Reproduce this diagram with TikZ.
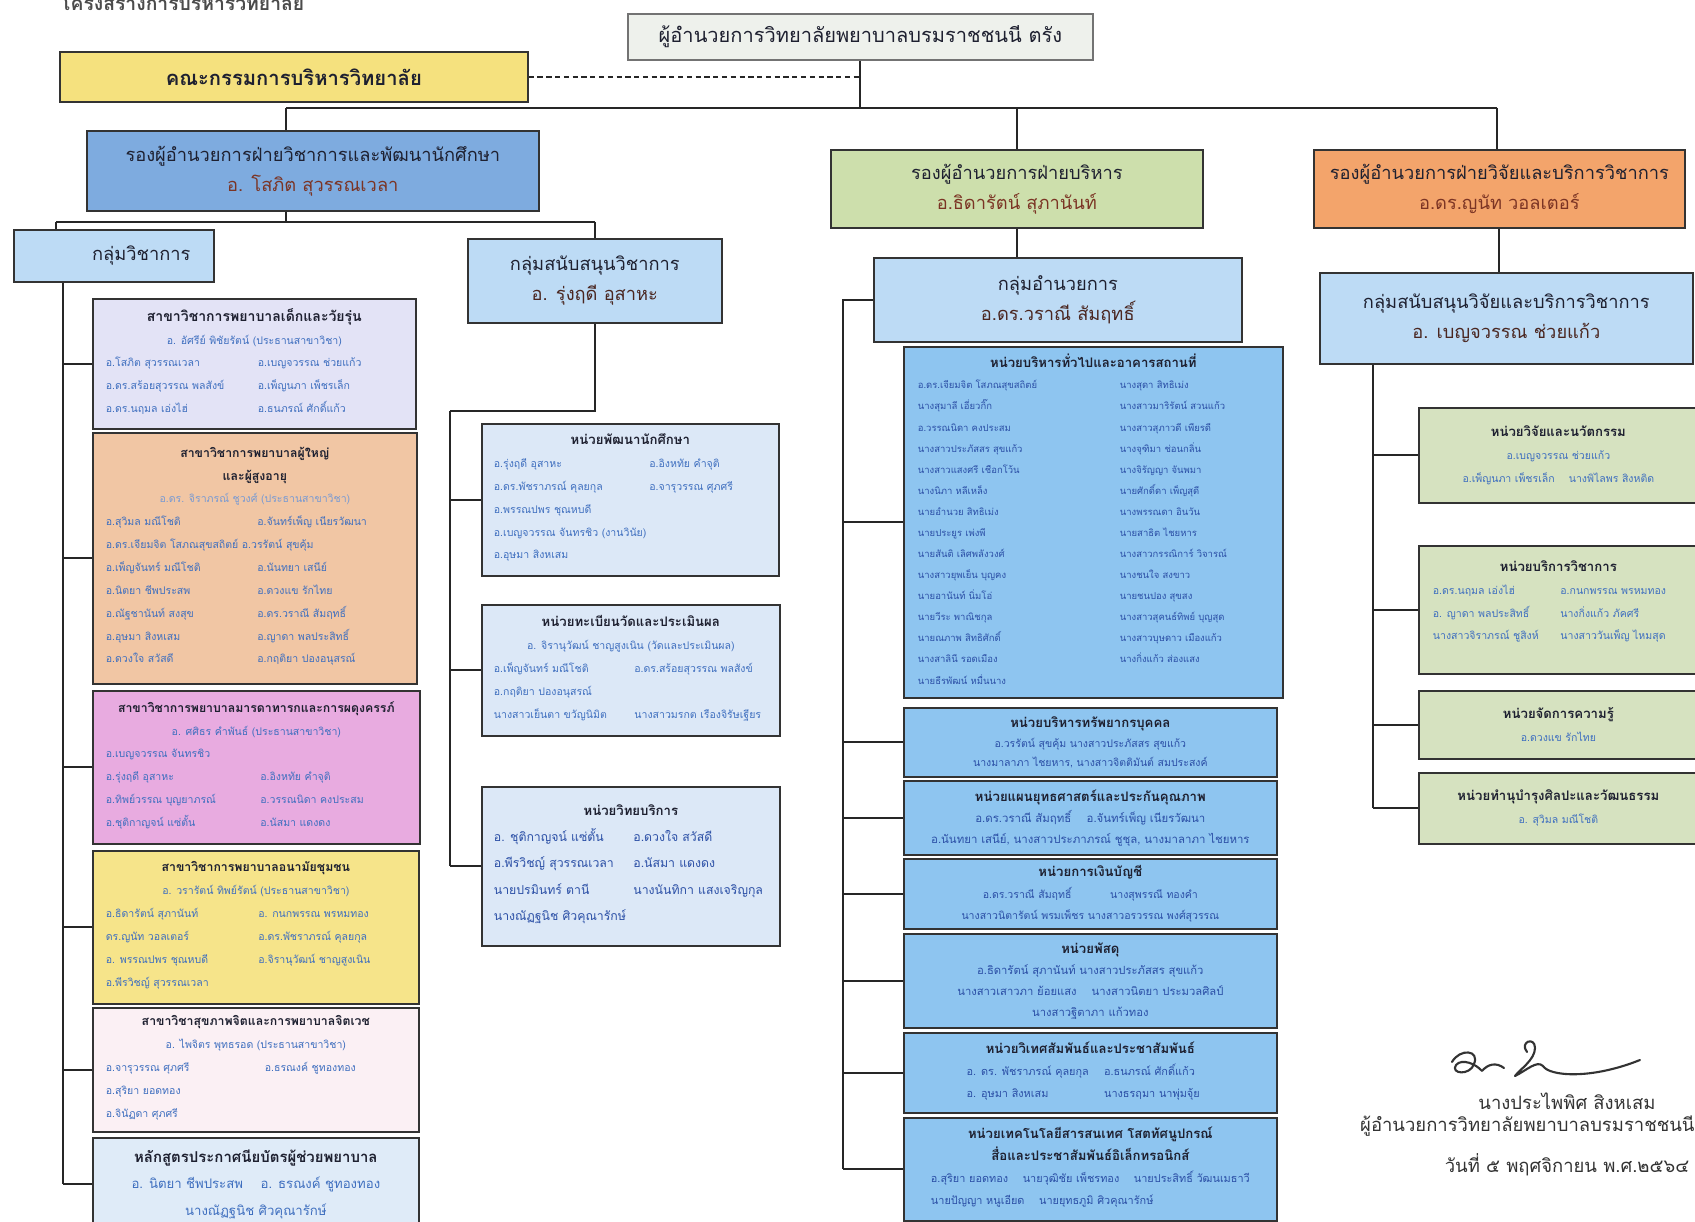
\documentclass[tikz,border=0pt]{standalone}
\usepackage{fontspec}
\usepackage{array}
\newfontfamily\thaifont[Script=Thai]{Loma}
\usetikzlibrary{positioning,calc}

\definecolor{namec}{HTML}{3F6FBF}
\definecolor{bluename}{HTML}{2B4FA6}
\definecolor{headc}{HTML}{1E2030}
\definecolor{vpname}{HTML}{7B3424}
\definecolor{grpname}{HTML}{4A2620}
\definecolor{linec}{HTML}{262626}
\definecolor{dirfill}{HTML}{EEF1EC}
\definecolor{boardfill}{HTML}{F5E17E}
\definecolor{vpblue}{HTML}{7EABDF}
\definecolor{vpgreen}{HTML}{CDDFAC}
\definecolor{vporange}{HTML}{F3A46B}
\definecolor{grpfill}{HTML}{BDDBF5}
\definecolor{kidfill}{HTML}{E3E3F6}
\definecolor{adultfill}{HTML}{F1C6A4}
\definecolor{matfill}{HTML}{E8ABE0}
\definecolor{comfill}{HTML}{F6E48A}
\definecolor{psyfill}{HTML}{FBF0F4}
\definecolor{certfill}{HTML}{DFEBF8}
\definecolor{midfill}{HTML}{DCE8F7}
\definecolor{unitblue}{HTML}{8EC5F0}
\definecolor{unitgreen}{HTML}{D6E2C0}

\newcommand{\twocol}[3]{\begin{tabular}[t]{@{}>{\raggedright\arraybackslash}p{#1}@{}>{\raggedright\arraybackslash}p{#2}@{}}#3\end{tabular}}
\newcommand{\head}[1]{{\fontsize{7}{\the\baselineskip}\selectfont\bfseries #1}}
\newcommand{\uhead}[1]{{\fontsize{7.5}{\the\baselineskip}\selectfont\bfseries #1}}
\newcommand{\nm}[1]{{\color{namec}#1}}
\newcommand{\bn}[1]{{\color{bluename}#1}}

\tikzset{
  box/.style={draw=black!80, line width=1pt, anchor=north west, inner sep=1pt, align=center, text=headc, font=\thaifont\fontsize{6}{13}\selectfont},
  bigbox/.style={box, font=\thaifont\fontsize{10.4}{17}\selectfont},
  link/.style={draw=linec, line width=1.1pt},
  sigtext/.style={font=\thaifont\fontsize{10.5}{12}\selectfont, text=black!80},
}

\begin{document}
\begin{tikzpicture}[x=0.02cm,y=-0.02cm]
\useasboundingbox (0,0) rectangle (1695,1222);
\clip (0,0) rectangle (1695,1222);
\fill[white] (0,0) rectangle (1695,1222);

% title and top level
\node[anchor=north west, font=\thaifont\bfseries\fontsize{11}{13}\selectfont, text=black!70] (title) at (54,-12) {โครงสร้างการบริหารวิทยาลัย};
\node[bigbox, fill=dirfill, draw=black!55, minimum width=9.3cm, minimum height=0.92cm, font=\thaifont\fontsize{11.4}{14}\selectfont] (dir) at (627,13) {ผู้อำนวยการวิทยาลัยพยาบาลบรมราชชนนี ตรัง};
\node[bigbox, fill=boardfill, minimum width=9.36cm, minimum height=1.0cm, font=\thaifont\bfseries\fontsize{11.5}{14}\selectfont] (board) at (59,51) {คณะกรรมการบริหารวิทยาลัย};

% deputies
\node[bigbox, fill=vpblue, minimum width=9.04cm, minimum height=1.6cm] (vp1) at (86,130) {รองผู้อำนวยการฝ่ายวิชาการและพัฒนานักศึกษา\\ \textcolor{vpname}{อ. โสภิต สุวรรณเวลา}};
\node[bigbox, fill=vpgreen, minimum width=7.44cm, minimum height=1.56cm] (vp2) at (830,149) {รองผู้อำนวยการฝ่ายบริหาร\\ \textcolor{vpname}{อ.ธิดารัตน์ สุภานันท์}};
\node[bigbox, fill=vporange, minimum width=7.42cm, minimum height=1.56cm] (vp3) at (1313,149) {รองผู้อำนวยการฝ่ายวิจัยและบริการวิชาการ\\ \textcolor{vpname}{อ.ดร.ญนัท วอลเตอร์}};

% groups
\node[bigbox, fill=grpfill, minimum width=4.0cm, minimum height=1.04cm] (grpA) at (13,229) {\hspace*{1.1cm}กลุ่มวิชาการ};
\node[bigbox, fill=grpfill, minimum width=5.08cm, minimum height=1.68cm] (grpB) at (467,238) {กลุ่มสนับสนุนวิชาการ\\ \textcolor{grpname}{อ. รุ่งฤดี อุสาหะ}};
\node[bigbox, fill=grpfill, minimum width=7.36cm, minimum height=1.68cm] (grpC) at (873,257) {กลุ่มอำนวยการ\\ \textcolor{grpname}{อ.ดร.วราณี สัมฤทธิ์}};
\node[bigbox, fill=grpfill, minimum width=7.46cm, minimum height=1.82cm] (grpD) at (1319,272) {กลุ่มสนับสนุนวิจัยและบริการวิชาการ\\ \textcolor{grpname}{อ. เบญจวรรณ ช่วยแก้ว}};

% branches of academic group
\node[box, fill=kidfill, minimum width=6.46cm, minimum height=2.6cm] (sdek) at (92,298) {{\fontsize{8}{13}\selectfont\bfseries สาขาวิชาการพยาบาลเด็กและวัยรุ่น}\\ \nm{อ. อัศรีย์ พิชัยรัตน์ (ประธานสาขาวิชา)}\\ \nm{\twocol{3.04cm}{2.9cm}{อ.โสภิต สุวรรณเวลา & อ.เบญจวรรณ ช่วยแก้ว\\ อ.ดร.สร้อยสุวรรณ พลสังข์ & อ.เพ็ญนภา เพ็ชรเล็ก\\ อ.ดร.นฤมล เอ่งไฮ่ & อ.ธนภรณ์ ศักดิ์แก้ว}}};
\node[box, fill=adultfill, minimum width=6.48cm, minimum height=5.02cm] (sadult) at (92,432) {\head{สาขาวิชาการพยาบาลผู้ใหญ่}\\ \head{และผู้สูงอายุ}\\ \textcolor{namec!70}{อ.ดร. จิราภรณ์ ชูวงศ์ (ประธานสาขาวิชา)}\\ \nm{\twocol{3.03cm}{2.93cm}{อ.สุวิมล มณีโชติ & อ.จันทร์เพ็ญ เนียรวัฒนา\\ \multicolumn{2}{@{}l@{}}{อ.ดร.เจียมจิต โสภณสุขสถิตย์ อ.วรรัตน์ สุขคุ้ม}\\ อ.เพ็ญจันทร์ มณีโชติ & อ.นันทยา เสนีย์\\ อ.นิตยา ชีพประสพ & อ.ดวงแข รักไทย\\ อ.ณัฐชานันท์ สงสุข & อ.ดร.วราณี สัมฤทธิ์\\ อ.อุษมา สิงหเสม & อ.ญาดา พลประสิทธิ์\\ อ.ดวงใจ สวัสดี & อ.กฤติยา ปองอนุสรณ์}}};
\node[box, fill=matfill, minimum width=6.54cm, minimum height=3.06cm] (smat) at (92,690) {\head{สาขาวิชาการพยาบาลมารดาทารกและการผดุงครรภ์}\\ \nm{อ. ศศิธร คำพันธ์ (ประธานสาขาวิชา)}\\ \nm{\twocol{3.09cm}{2.93cm}{อ.เบญจวรรณ จันทรชิว & \\ อ.รุ่งฤดี อุสาหะ & อ.อิงหทัย คำจุติ\\ อ.ทิพย์วรรณ บุญยาภรณ์ & อ.วรรณนิดา คงประสม\\ อ.ชุติกาญจน์ แซ่ตั้น & อ.นัสมา แดงดง}}};
\node[box, fill=comfill, minimum width=6.52cm, minimum height=3.06cm] (scom) at (92,850) {\head{สาขาวิชาการพยาบาลอนามัยชุมชน}\\ \nm{อ. วรารัตน์ ทิพย์รัตน์ (ประธานสาขาวิชา)}\\ \nm{\twocol{3.05cm}{2.95cm}{อ.ธิดารัตน์ สุภานันท์ & อ. กนกพรรณ พรหมทอง\\ ดร.ญนัท วอลเตอร์ & อ.ดร.พัชราภรณ์ คุลยกุล\\ อ. พรรณปพร ชุณหบดี & อ.จิรานุวัฒน์ ชาญสูงเนิน\\ อ.พีรวิชญ์ สุวรรณเวลา & }}};
\node[box, fill=psyfill, minimum width=6.52cm, minimum height=2.48cm] (spsy) at (92,1007) {\head{สาขาวิชาสุขภาพจิตและการพยาบาลจิตเวช}\\ \nm{อ. ไพจิตร พุทธรอด (ประธานสาขาวิชา)}\\ \nm{\twocol{3.18cm}{2.82cm}{อ.จารุวรรณ ศุภศรี & อ.ธรณงค์ ชูทองทอง\\ อ.สุริยา ยอดทอง & \\ อ.จินัฏดา ศุภศรี & }}};
\node[box, fill=certfill, minimum width=6.52cm, minimum height=1.86cm, font=\thaifont\fontsize{7.5}{15}\selectfont] (scert) at (92,1137) {{\bfseries\fontsize{8.5}{15}\selectfont หลักสูตรประกาศนียบัตรผู้ช่วยพยาบาล}\\ \nm{อ. นิตยา ชีพประสพ \quad อ. ธรณงค์ ชูทองทอง}\\ \nm{นางณัฏฐนิช ศิวคุณารักษ์}};

% academic support units
\node[box, fill=midfill, minimum width=5.94cm, minimum height=3.04cm] (mdev) at (481,423) {\uhead{หน่วยพัฒนานักศึกษา}\\ \nm{\twocol{3.11cm}{2.35cm}{อ.รุ่งฤดี อุสาหะ & อ.อิงหทัย คำจุติ\\ อ.ดร.พัชราภรณ์ คุลยกุล & อ.จารุวรรณ ศุภศรี\\ อ.พรรณปพร ชุณหบดี & \\ \multicolumn{2}{@{}l@{}}{อ.เบญจวรรณ จันทรชิว (งานวินัย)}\\ อ.อุษมา สิงหเสม & }}};
\node[box, fill=midfill, minimum width=5.96cm, minimum height=2.62cm] (mreg) at (481,604) {\uhead{หน่วยทะเบียนวัดและประเมินผล}\\ \nm{อ. จิรานุวัฒน์ ชาญสูงเนิน (วัดและประเมินผล)}\\ \nm{\twocol{2.81cm}{2.67cm}{อ.เพ็ญจันทร์ มณีโชติ & อ.ดร.สร้อยสุวรรณ พลสังข์\\ อ.กฤติยา ปองอนุสรณ์ & \\ นางสาวเย็นตา ขวัญนิมิต & นางสาวมรกต เรืองจิรัษเฐียร}}};
\node[box, fill=midfill, minimum width=5.96cm, minimum height=3.18cm, font=\thaifont\fontsize{7}{15}\selectfont] (mlib) at (481,786) {\uhead{หน่วยวิทยบริการ}\\ \bn{\twocol{2.79cm}{2.69cm}{อ. ชุติกาญจน์ แซ่ตั้น & อ.ดวงใจ สวัสดี\\ อ.พีรวิชญ์ สุวรรณเวลา & อ.นัสมา แดงดง\\ นายปรมินทร์ ตานี & นางนันทิกา แสงเจริญกุล\\ นางณัฏฐนิช ศิวคุณารักษ์ & }}};

% administration units
\node[box, fill=unitblue, minimum width=7.58cm, minimum height=7.02cm, font=\thaifont\fontsize{5.4}{12}\selectfont] (ugen) at (903,346) {\uhead{หน่วยบริหารทั่วไปและอาคารสถานที่}\\ \bn{\twocol{4.04cm}{2.98cm}{อ.ดร.เจียมจิต โสภณสุขสถิตย์ & นางสุดา สิทธิเม่ง\\ นางสุมาลี เอี่ยวกิ๊ก & นางสาวมาริรัตน์ สวนแก้ว\\ อ.วรรณนิดา คงประสม & นางสาวสุภาวดี เพียรดี\\ นางสาวประภัสสร สุขแก้ว & นางจุฑิมา ช่อนกลิ่น\\ นางสาวแสงศรี เชือกโว้น & นางจิรัญญา จันพมา\\ นางนิภา หลีเหล็ง & นายศักดิ์ดา เพ็ญสุดี\\ นายอำนวย สิทธิเม่ง & นางพรรณดา อินวัน\\ นายประยูร เพ่งพี & นายสาธิต ไชยหาร\\ นายสันติ เลิศพลังวงศ์ & นางสาวกรรณิการ์ วิจารณ์\\ นางสาวยุพเย็น บุญคง & นางชนใจ สงขาว\\ นายอานันท์ นิ่มโอ่ & นายชนปอง สุขสง\\ นายวีระ พาณิชกุล & นางสาวสุคนธ์ทิพย์ บุญสุด\\ นายณภาพ สิทธิศักดิ์ & นางสาวบุษดาว เมืองแก้ว\\ นางสาลินี รอดเมือง & นางกิ่งแก้ว ส่องแสง\\ นายธีรพัฒน์ หมื่นนาง & }}};
\node[box, fill=unitblue, minimum width=7.46cm, minimum height=1.38cm, font=\thaifont\fontsize{6}{11}\selectfont] (uhr) at (903,707) {\uhead{หน่วยบริหารทรัพยากรบุคคล}\\ \bn{อ.วรรัตน์ สุขคุ้ม นางสาวประภัสสร สุขแก้ว}\\ \bn{นางมาลาภา ไชยหาร, นางสาวจิตติมันต์ สมประสงค์}};
\node[box, fill=unitblue, minimum width=7.46cm, minimum height=1.48cm, font=\thaifont\fontsize{6.5}{12}\selectfont] (uplan) at (903,780) {\uhead{หน่วยแผนยุทธศาสตร์และประกันคุณภาพ}\\ \bn{อ.ดร.วราณี สัมฤทธิ์ \quad อ.จันทร์เพ็ญ เนียรวัฒนา}\\ \bn{อ.นันทยา เสนีย์, นางสาวประภาภรณ์ ชูชุล, นางมาลาภา ไชยหาร}};
\node[box, fill=unitblue, minimum width=7.46cm, minimum height=1.40cm, font=\thaifont\fontsize{6}{12}\selectfont] (ufin) at (903,858) {\uhead{หน่วยการเงินบัญชี}\\ \bn{อ.ดร.วราณี สัมฤทธิ์ \hspace{3em} นางสุพรรณี ทองคำ}\\ \bn{นางสาวนิตารัตน์ พรมเพ็ชร นางสาวอรวรรณ พงศ์สุวรรณ}};
\node[box, fill=unitblue, minimum width=7.46cm, minimum height=1.88cm, font=\thaifont\fontsize{6.4}{12}\selectfont] (usup) at (903,933) {\uhead{หน่วยพัสดุ}\\ \bn{อ.ธิดารัตน์ สุภานันท์ นางสาวประภัสสร สุขแก้ว}\\ \bn{นางสาวเสาวภา ย้อยแสง \quad นางสาวนิตยา ประมวลศิลป์}\\ \bn{นางสาวฐิตาภา แก้วทอง}};
\node[box, fill=unitblue, minimum width=7.46cm, minimum height=1.60cm, font=\thaifont\fontsize{6.2}{12.5}\selectfont] (uint) at (903,1032) {\uhead{หน่วยวิเทศสัมพันธ์และประชาสัมพันธ์}\\ \bn{\twocol{2.75cm}{2.2cm}{อ. ดร. พัชราภรณ์ คุลยกุล & อ.ธนภรณ์ ศักดิ์แก้ว\\ อ. อุษมา สิงหเสม & นางธรฤมา นาพุ่มจุ้ย}}};
\node[box, fill=unitblue, minimum width=7.46cm, minimum height=2.06cm, font=\thaifont\fontsize{6.2}{12.5}\selectfont] (uit) at (903,1117) {\uhead{หน่วยเทคโนโลยีสารสนเทศ โสตทัศนูปกรณ์}\\ \uhead{สื่อและประชาสัมพันธ์อิเล็กทรอนิกส์}\\ \bn{\begin{tabular}[t]{@{}l@{}}อ.สุริยา ยอดทอง \quad นายวุฒิชัย เพ็ชรทอง \quad นายประสิทธิ์ วัฒนเมธาวี\\ นายปัญญา หนูเอียด \quad นายยุทธภูมิ ศิวคุณารักษ์\end{tabular}}};

% research and service units
\node[box, fill=unitgreen, minimum width=5.58cm, minimum height=1.90cm] (rres) at (1418,407) {\uhead{หน่วยวิจัยและนวัตกรรม}\\ \nm{อ.เบญจวรรณ ช่วยแก้ว}\\ \nm{อ.เพ็ญนภา เพ็ชรเล็ก \quad นางพิไลพร สิงหติด}};
\node[box, fill=unitgreen, minimum width=5.58cm, minimum height=2.56cm] (rsvc) at (1418,545) {\uhead{หน่วยบริการวิชาการ}\\ \nm{\twocol{2.55cm}{2.47cm}{อ.ดร.นฤมล เอ่งไฮ่ & อ.กนกพรรณ พรหมทอง\\ อ. ญาดา พลประสิทธิ์ & นางกิ่งแก้ว ภัคศรี\\ นางสาวจิราภรณ์ ชูสิงห์ & นางสาววันเพ็ญ ไหมสุด}}\\[6pt]};
\node[box, fill=unitgreen, minimum width=5.58cm, minimum height=1.36cm] (rkm) at (1418,690) {\uhead{หน่วยจัดการความรู้}\\ \nm{อ.ดวงแข รักไทย}};
\node[box, fill=unitgreen, minimum width=5.58cm, minimum height=1.42cm] (rart) at (1418,772) {\uhead{หน่วยทำนุบำรุงศิลปะและวัฒนธรรม}\\ \nm{อ. สุวิมล มณีโชติ}};

% top connectors
\coordinate (busL) at (286,108);
\coordinate (busR) at (1497,108);
\draw[link] (dir.south) -- (dir.south |- busL);
\draw[link] (busL) -- (busR);
\draw[link] (busL) -- (busL |- vp1.north);
\draw[link] (vp2.north |- busL) -- (vp2.north);
\draw[link] (busR) -- (busR |- vp3.north);
\draw[link, dash pattern=on 3pt off 2pt] (board.east) -- (board.east -| dir.south);

% academic side
\coordinate (busA) at (56,222);
\coordinate (busB) at (595,222);
\draw[link] (vp1.south -| busL) -- (busL |- busA);
\draw[link] (busA) -- (busB);
\draw[link] (busA) -- (busA |- grpA.north);
\draw[link] (busB) -- (busB |- grpB.north);

\coordinate (spA) at (63,0);
\draw[link] (grpA.south -| spA) -- (spA |- scert.west);
\foreach \n in {sdek,sadult,smat,scom,spsy,scert}
	\draw[link] (spA |- \n.west) -- (\n.west);

\coordinate (spB) at (450,411);
\draw[link] (grpB.south) |- (spB);
\draw[link] (spB) -- (spB |- mlib.west);
\foreach \n in {mdev,mreg,mlib}
	\draw[link] (spB |- \n.west) -- (\n.west);

% administration side
\draw[link] (vp2.south) -- (vp2.south |- grpC.north);
\coordinate (spC) at (843,0);
\draw[link] (grpC.west) -- (grpC.west -| spC) -- (spC |- uit.west);
\foreach \n in {ugen,uhr,uplan,ufin,usup,uint,uit}
	\draw[link] (spC |- \n.west) -- (\n.west);

% research side
\draw[link] (vp3.south) -- (vp3.south |- grpD.north);
\coordinate (spD) at (1373,0);
\draw[link] (grpD.south -| spD) -- (spD |- rart.west);
\foreach \n in {rres,rsvc,rkm,rart}
	\draw[link] (spD |- \n.west) -- (\n.west);

% signature
\draw[line width=1.2pt, black!80, line cap=round, line join=round] (1452,1062) .. controls (1460,1048) and (1480,1050) .. (1474,1064) .. controls (1470,1076) and (1450,1074) .. (1456,1065) .. controls (1462,1058) and (1476,1064) .. (1482,1071) .. controls (1488,1064) and (1496,1062) .. (1504,1068);
\draw[line width=1.2pt, black!80, line cap=round, line join=round] (1527,1052) .. controls (1519,1042) and (1535,1036) .. (1535,1048) .. controls (1535,1060) and (1519,1070) .. (1515,1076) .. controls (1527,1070) and (1537,1060) .. (1543,1066) .. controls (1549,1076) and (1590,1080) .. (1640,1060);
\node[sigtext] (signame) at (1567,1101) {นางประไพพิศ สิงหเสม};
\node[sigtext, anchor=west] (sigpos) at (1354,1126) {ผู้อำนวยการวิทยาลัยพยาบาลบรมราชชนนี ตรัง};
\node[sigtext] (sigdate) at (1567,1165) {วันที่ ๕ พฤศจิกายน พ.ศ.๒๕๖๔};
\end{tikzpicture}
\end{document}
